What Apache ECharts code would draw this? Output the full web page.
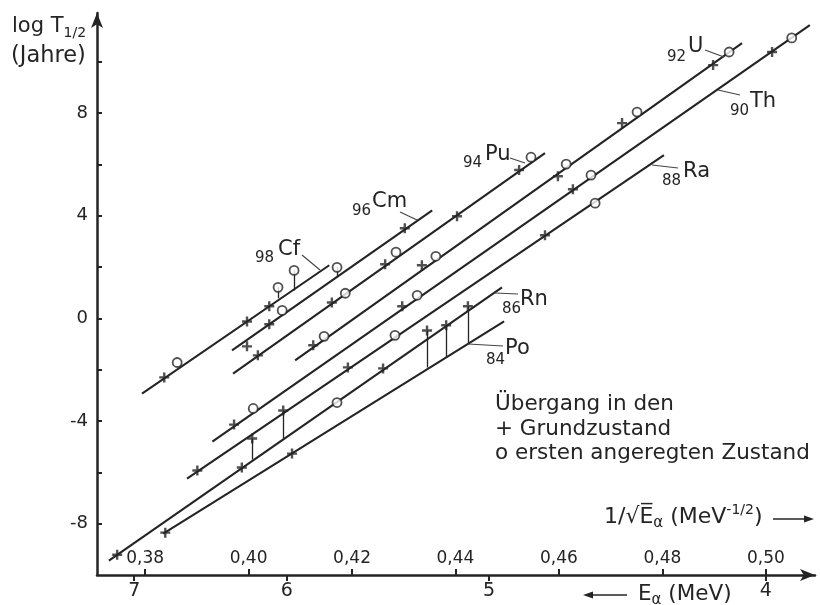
<!DOCTYPE html>
<html><head><meta charset="utf-8">
<script src="https://cdn.jsdelivr.net/npm/echarts@6/dist/echarts.min.js"></script>
<style>html,body{margin:0;padding:0;background:#fff}#c{width:820px;height:605px}</style>
</head><body><div id="c"></div>
<script>
// ---- axis ticks ----
const xTickValues = [0.38, 0.40, 0.42, 0.44, 0.46, 0.48, 0.50];
const eTickLabels = ['7', '6', '5', '4'];
const eTickPos = [0.3779, 0.4074, 0.4465, 0.5000];
const yTickValues = [-8, -6, -4, -2, 0, 2, 4, 6, 8, 10];
const yLabelValues = [-8, -4, 0, 4, 8];

// ---- data: [1/sqrt(E), log T1/2] ----
const poLine = [[0.3835, -8.39], [0.4494, -0.12]];
const poGround = [[0.3839, -8.35], [0.4084, -5.27]];
const poGroundRaised = [[0.4345, -0.47], [0.4382, -0.27], [0.4424, 0.47]];
const poStems = [[0.4345, -0.47, -1.91], [0.4382, -0.27, -1.52], [0.4424, 0.47, -0.98]];

const rnLine = [[0.3730, -9.44], [0.4490, 1.21]];
const rnGround = [[0.3746, -9.21], [0.3987, -5.81], [0.4260, -1.95]];
const rnExcited = [[0.4171, -3.28]];

const raLine = [[0.3881, -6.24], [0.4803, 6.36]];
const raGround = [[0.3901, -5.93], [0.4192, -1.91], [0.4573, 3.24]];
const raGroundRaised = [[0.4007, -4.68], [0.4067, -3.59]];
const raStems = [[0.4007, -4.68, -5.50], [0.4067, -3.59, -4.68]];
const raExcited = [[0.4283, -0.66], [0.4670, 4.49]];

const thLine = [[0.3930, -4.80], [0.5085, 11.43]];
const thGround = [[0.3972, -4.14], [0.4297, 0.47], [0.4627, 5.03], [0.5012, 10.38]];
const thExcited = [[0.4009, -3.51], [0.4326, 0.90], [0.4662, 5.58], [0.5050, 10.93]];

const uLine = [[0.4090, -1.64], [0.4954, 10.73]];
const uGround = [[0.4125, -1.05], [0.4335, 2.07], [0.4598, 5.54], [0.4722, 7.61], [0.4898, 9.87]];
const uExcited = [[0.4146, -0.70], [0.4362, 2.42], [0.4614, 6.01], [0.4751, 8.04], [0.4929, 10.38]];

const puLine = [[0.3970, -2.15], [0.4573, 6.44]];
const puGround = [[0.4018, -1.44], [0.4161, 0.62], [0.4264, 2.11], [0.4403, 3.98], [0.4523, 5.78]];
const puExcited = [[0.4187, 0.98], [0.4285, 2.58], [0.4546, 6.28]];

const cmLine = [[0.3968, -1.25], [0.4355, 4.21]];
const cmGround = [[0.3997, -1.09], [0.4040, -0.23], [0.4302, 3.51]];
const cmExcited = [[0.4065, 0.31], [0.4171, 1.99]];
const cmStems = [[0.4171, 1.99, 1.64]];

const cfLine = [[0.3794, -2.93], [0.4156, 2.07]];
const cfGround = [[0.3837, -2.30], [0.3997, -0.12], [0.4040, 0.47]];
const cfExcited = [[0.3862, -1.72], [0.4057, 1.21], [0.4088, 1.87]];
const cfStems = [[0.4057, 1.21, 0.78], [0.4088, 1.87, 1.09]];

const lineSets = [poLine, rnLine, raLine, thLine, uLine, puLine, cmLine, cfLine];
const groundSets = [poGround, poGroundRaised, rnGround, raGround, raGroundRaised, thGround, uGround, puGround, cmGround, cfGround];
const excitedSets = [rnExcited, raExcited, thExcited, uExcited, puExcited, cmExcited, cfExcited];
const stemSets = [poStems, raStems, cmStems, cfStems];

// ---- styles ----
const FONT = '"DejaVu Sans", sans-serif';
const INK = '#242424';
const PLUS = 'path://M3.8,0H6.2V3.8H10V6.2H6.2V10H3.8V6.2H0V3.8H3.8Z';

const series = [];
lineSets.forEach(function (l) {
  series.push({ type: 'line', data: l, symbol: 'none', clip: false, silent: true, z: 2,
    lineStyle: { color: INK, width: 2.1 } });
});
series.push({ type: 'lines', coordinateSystem: 'cartesian2d', silent: true, z: 3,
  data: [].concat.apply([], stemSets).map(function (s) { return { coords: [[s[0], s[1]], [s[0], s[2]]] }; }),
  lineStyle: { color: INK, width: 1.3, opacity: 1 } });
series.push({ type: 'scatter', data: [].concat.apply([], groundSets), symbol: PLUS, symbolSize: 10, z: 5, silent: true,
  itemStyle: { color: INK } });
series.push({ type: 'scatter', data: [].concat.apply([], excitedSets), symbol: 'circle', symbolSize: 9, z: 5, silent: true,
  itemStyle: { color: '#fff', borderColor: INK, borderWidth: 1.8 } });

// ---- annotation layout (pixels) ----
function T(x, y, text, size, opts) {
  return Object.assign({ type: 'text', silent: true, z: 10,
    style: Object.assign({ x: x, y: y, text: text, fontSize: size, fontFamily: FONT, fill: INK,
      align: 'left', verticalAlign: 'middle' }, opts || {}) });
}
function L(x1, y1, x2, y2, w, c, dash) {
  return { type: 'line', silent: true, z: 10, shape: { x1: x1, y1: y1, x2: x2, y2: y2 },
    style: { stroke: c || INK, lineWidth: w || 1, lineDash: dash || null } };
}
const elemLabels = [
  ['92', 'U', 667, 57, 688, 47, [705, 50, 724, 57]],
  ['90', 'Th', 730, 111, 750, 102, [718, 90, 740, 95]],
  ['88', 'Ra', 662, 181, 683, 172, [652, 165, 678, 168]],
  ['86', 'Rn', 502, 309, 520, 300, [495, 293, 518, 294]],
  ['84', 'Po', 486, 360, 505, 349, [468, 344, 503, 346]],
  ['94', 'Pu', 463, 163, 485, 155, [510, 158, 525, 163]],
  ['96', 'Cm', 352, 211, 372, 202, [400, 212, 417, 220]],
  ['98', 'Cf', 255, 258, 278, 250, [302, 255, 320, 270]]
];
const graphics = [];
elemLabels.forEach(function (e) {
  graphics.push(T(e[2], e[3], e[0], 15));
  graphics.push(T(e[4], e[5], e[1], 21));
  const p = e[6];
  graphics.push(L(p[0], p[1], p[2], p[3], 1.1, '#444'));
});
// y axis title
graphics.push(T(12, 27, '{n|log T}{s|1/2}', 21, { rich: {
  n: { fontSize: 21, fontFamily: FONT, fill: INK, lineHeight: 26, verticalAlign: 'middle' },
  s: { fontSize: 14, fontFamily: FONT, fill: INK, lineHeight: 26, verticalAlign: 'bottom' } } }));
graphics.push(T(11, 56, '(Jahre)', 22.5));
// x axis titles
graphics.push(T(604, 517, '{n|1/√E\u0305}{s|α}{n| (MeV}{p|-1/2}{n|)}', 22, { rich: {
  n: { fontSize: 22, fontFamily: FONT, fill: INK, lineHeight: 28, verticalAlign: 'middle' },
  s: { fontSize: 15, fontFamily: FONT, fill: INK, lineHeight: 28, verticalAlign: 'bottom' },
  p: { fontSize: 14, fontFamily: FONT, fill: INK, lineHeight: 28, verticalAlign: 'top' } } }));
graphics.push(L(773, 519, 806, 519, 1.6));
graphics.push({ type: 'polygon', silent: true, z: 10, shape: { points: [[804, 515.5], [814, 519], [804, 522.5]] }, style: { fill: INK } });
graphics.push(T(638, 594, '{n|E}{s|α}{n| (MeV)}', 21.5, { rich: {
  n: { fontSize: 21.5, fontFamily: FONT, fill: INK, lineHeight: 28, verticalAlign: 'middle' },
  s: { fontSize: 15, fontFamily: FONT, fill: INK, lineHeight: 28, verticalAlign: 'bottom' } } }));
graphics.push(L(593, 595, 627, 595, 1.6));
graphics.push({ type: 'polygon', silent: true, z: 10, shape: { points: [[593, 591.5], [583, 595], [593, 598.5]] }, style: { fill: INK } });
// legend
graphics.push(T(495, 404, 'Übergang in den', 21.5));
graphics.push(T(495, 429, '+ Grundzustand', 21.5));
graphics.push(T(495, 453, 'o ersten angeregten Zustand', 21.5));

function nearestIdx(arr, v) {
  let b = 0; for (let i = 1; i < arr.length; i++) if (Math.abs(arr[i] - v) < Math.abs(arr[b] - v)) b = i; return b;
}

const axisLineStyle = { color: INK, width: 2.5 };
const option = {
  animation: false,
  backgroundColor: '#fff',
  grid: { left: 97, right: 5, top: 13, bottom: 30, containLabel: false },
  xAxis: [
    { type: 'value', min: 0.3707, max: 0.5095, position: 'bottom',
      axisLine: { show: true, onZero: false, symbol: ['none', 'arrow'], symbolSize: [9, 15], symbolOffset: [0, 0], lineStyle: axisLineStyle },
      axisTick: { show: true, inside: true, length: 6, customValues: xTickValues, lineStyle: { color: INK, width: 2 } },
      axisLabel: { show: true, inside: true, margin: 8, customValues: xTickValues,
        formatter: function (v) { return v.toFixed(2).replace('.', ','); },
        fontSize: 17, fontFamily: FONT, color: INK },
      splitLine: { show: false } },
    { type: 'value', min: 0.3707, max: 0.5095, position: 'bottom',
      axisLine: { show: false, onZero: false },
      axisTick: { show: true, inside: false, length: 6, customValues: eTickPos, lineStyle: { color: INK, width: 2 } },
      axisLabel: { show: true, margin: 7, customValues: eTickPos,
        formatter: function (v) { return eTickLabels[nearestIdx(eTickPos, v)]; },
        fontSize: 19, fontFamily: FONT, color: INK },
      splitLine: { show: false } }
  ],
  yAxis: { type: 'value', min: -10, max: 11.9,
    axisLine: { show: true, onZero: false, symbol: ['none', 'arrow'], symbolSize: [9, 15], symbolOffset: [0, 0], lineStyle: axisLineStyle },
    axisTick: { show: true, inside: true, length: 5, customValues: yTickValues, lineStyle: { color: INK, width: 2 } },
    axisLabel: { show: true, margin: 9, customValues: yLabelValues,
      formatter: function (v) { return String(v); }, fontSize: 18, fontFamily: FONT, color: INK },
    splitLine: { show: false } },
  series: series,
  graphic: { elements: graphics }
};
const chart = echarts.init(document.getElementById('c'), null, { renderer: 'canvas' });
chart.setOption(option);
</script></body></html>
